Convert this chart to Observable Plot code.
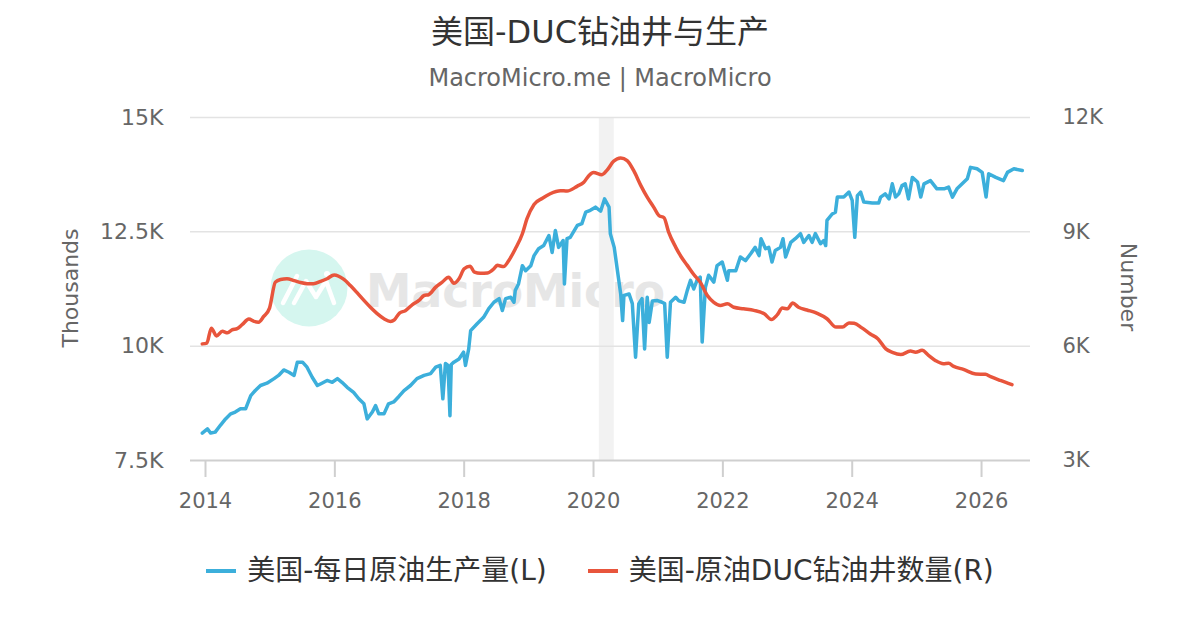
<!DOCTYPE html>
<html><head><meta charset="utf-8">
<script src="https://cdn.jsdelivr.net/npm/d3@7"></script>
<script src="https://cdn.jsdelivr.net/npm/@observablehq/plot@0.6"></script>
<style>
body{margin:0;width:1200px;height:630px;background:#fff;position:relative;overflow:hidden;font-family:"DejaVu Sans","Noto Sans CJK SC",sans-serif;}
#title{position:absolute;top:13px;left:0;width:1200px;text-align:center;font-size:32px;line-height:38px;color:#333;}
#subtitle{position:absolute;top:64px;left:0;width:1200px;text-align:center;font-size:24px;line-height:28px;color:#666;}
#wm{position:absolute;left:0;top:0;}
#chart{position:absolute;left:0;top:100px;}
.axt{position:absolute;font-size:22px;color:#666;white-space:nowrap;transform-origin:center;}
#legend{position:absolute;left:0;top:554px;width:1200px;display:flex;justify-content:center;align-items:center;font-size:28px;line-height:34px;color:#333;}
.item{display:flex;align-items:center;}
.sw{width:30px;height:4px;margin-right:11px;}
</style>
</head><body>
<div id="title">美国-DUC钻油井与生产</div>
<div id="subtitle">MacroMicro.me | MacroMicro</div>
<svg id="wm" width="1200" height="630">
  <circle cx="309" cy="288" r="38.5" fill="#d5f6ef"/>
  <g fill="none" stroke="#fff" stroke-width="4.5" stroke-linecap="round" stroke-linejoin="round">
    <path d="M283 303 L297 276"/>
    <path d="M294 303 L306 281 L316 297 L326 281 L334 303"/>
  </g>
  <circle cx="327" cy="274" r="3" fill="#fff"/>
  <text x="366" y="307" font-family="DejaVu Sans" font-weight="bold" font-size="47" fill="#e6e6e6" textLength="299" lengthAdjust="spacingAndGlyphs">MacroMicro</text>
</svg>
<div id="chart"></div>
<div class="axt" style="left:70px;top:288px;transform:translate(-50%,-50%) rotate(-90deg);">Thousands</div>
<div class="axt" style="left:1128px;top:287px;transform:translate(-50%,-50%) rotate(90deg);">Number</div>
<div id="legend">
  <div class="item"><div class="sw" style="background:#3cafdb"></div><span>美国-每日原油生产量(L)</span></div>
  <div class="item" style="margin-left:41px"><div class="sw" style="background:#e8553c"></div><span>美国-原油DUC钻油井数量(R)</span></div>
</div>
<script>
// ---- data (decimal years, values in thousands) ----
const blueYears = [2013.95,2014.03,2014.08,2014.15,2014.23,2014.31,2014.39,2014.46,2014.54,2014.62,2014.70,2014.77,2014.85,2014.95,2015.06,2015.13,2015.21,2015.29,2015.37,2015.42,2015.50,2015.57,2015.65,2015.73,2015.80,2015.88,2015.96,2016.04,2016.11,2016.19,2016.29,2016.37,2016.45,2016.50,2016.58,2016.63,2016.68,2016.76,2016.83,2016.91,2016.99,2017.07,2017.17,2017.27,2017.38,2017.48,2017.56,2017.63,2017.67,2017.71,2017.75,2017.78,2017.80,2017.84,2017.92,2017.99,2018.02,2018.07,2018.10,2018.20,2018.30,2018.38,2018.46,2018.54,2018.59,2018.64,2018.72,2018.77,2018.79,2018.84,2018.90,2018.95,2019.03,2019.08,2019.15,2019.23,2019.31,2019.36,2019.41,2019.46,2019.53,2019.55,2019.59,2019.64,2019.75,2019.82,2019.88,2019.95,2020.03,2020.11,2020.17,2020.24,2020.26,2020.32,2020.37,2020.42,2020.45,2020.47,2020.55,2020.60,2020.65,2020.70,2020.75,2020.79,2020.83,2020.86,2020.91,2020.98,2021.06,2021.10,2021.14,2021.19,2021.27,2021.32,2021.40,2021.45,2021.50,2021.55,2021.60,2021.65,2021.68,2021.73,2021.78,2021.86,2021.91,2021.99,2022.07,2022.09,2022.20,2022.27,2022.35,2022.43,2022.50,2022.56,2022.59,2022.66,2022.71,2022.76,2022.81,2022.89,2022.93,2022.97,2023.05,2023.12,2023.20,2023.25,2023.33,2023.38,2023.43,2023.51,2023.56,2023.59,2023.61,2023.69,2023.74,2023.77,2023.87,2023.95,2024.00,2024.04,2024.08,2024.13,2024.18,2024.31,2024.41,2024.44,2024.51,2024.57,2024.62,2024.67,2024.72,2024.77,2024.82,2024.87,2024.93,2025.01,2025.06,2025.11,2025.21,2025.31,2025.42,2025.49,2025.55,2025.62,2025.70,2025.78,2025.83,2025.93,2026.01,2026.07,2026.11,2026.22,2026.34,2026.40,2026.50,2026.63];
const blueValues = [8.10,8.19,8.10,8.12,8.27,8.41,8.52,8.56,8.63,8.63,8.92,9.03,9.14,9.19,9.29,9.36,9.48,9.43,9.36,9.65,9.65,9.54,9.32,9.14,9.19,9.25,9.21,9.29,9.21,9.10,8.99,8.85,8.74,8.41,8.56,8.70,8.52,8.52,8.74,8.78,8.90,9.03,9.14,9.29,9.36,9.40,9.54,9.58,8.85,9.62,9.58,8.48,9.60,9.65,9.72,9.87,9.58,9.94,10.34,10.49,10.63,10.82,10.96,11.04,10.78,11.04,11.07,10.96,11.22,11.36,11.76,11.65,11.76,11.98,12.13,12.20,12.42,12.05,12.53,12.16,12.31,11.36,12.35,12.38,12.64,12.68,12.93,12.97,13.04,12.95,13.22,13.04,12.46,12.16,11.65,11.14,10.56,11.11,11.14,10.93,9.76,10.93,11.04,9.94,11.07,10.52,10.99,11.00,10.96,10.93,9.76,10.96,11.07,10.99,10.96,11.22,11.44,11.25,11.44,11.51,10.09,11.29,11.55,11.40,11.76,11.84,11.44,11.65,11.65,11.95,11.87,12.02,12.16,11.98,12.35,12.13,12.16,11.84,12.09,12.16,12.35,11.95,12.27,12.35,12.46,12.27,12.42,12.27,12.46,12.24,12.31,12.20,12.75,12.89,12.93,13.26,13.26,13.37,13.19,12.38,13.29,13.37,13.15,13.13,13.13,13.26,13.33,13.22,13.55,13.26,13.33,13.51,13.55,13.22,13.69,13.59,13.26,13.55,13.62,13.44,13.44,13.48,13.26,13.44,13.55,13.66,13.91,13.88,13.80,13.26,13.77,13.69,13.62,13.80,13.88,13.84];
const redYears = [2013.95,2014.02,2014.09,2014.17,2014.26,2014.34,2014.41,2014.49,2014.57,2014.67,2014.75,2014.82,2014.90,2014.99,2015.08,2015.16,2015.26,2015.37,2015.47,2015.57,2015.67,2015.78,2015.88,2015.99,2016.14,2016.24,2016.35,2016.45,2016.55,2016.65,2016.76,2016.86,2016.92,2017.00,2017.09,2017.20,2017.30,2017.38,2017.45,2017.56,2017.66,2017.76,2017.84,2017.92,2018.00,2018.09,2018.16,2018.25,2018.36,2018.46,2018.51,2018.61,2018.69,2018.79,2018.90,2018.97,2019.08,2019.21,2019.33,2019.49,2019.59,2019.75,2019.85,2019.93,2020.00,2020.13,2020.21,2020.31,2020.42,2020.52,2020.62,2020.73,2020.83,2020.93,2021.01,2021.09,2021.16,2021.27,2021.35,2021.45,2021.55,2021.65,2021.76,2021.86,2021.96,2022.07,2022.17,2022.32,2022.48,2022.64,2022.75,2022.84,2022.92,2023.00,2023.08,2023.17,2023.30,2023.46,2023.61,2023.75,2023.85,2023.95,2024.03,2024.15,2024.28,2024.40,2024.52,2024.62,2024.75,2024.90,2024.98,2025.08,2025.18,2025.29,2025.41,2025.49,2025.57,2025.72,2025.91,2026.06,2026.14,2026.29,2026.47];
const redValues = [6.06,6.08,6.47,6.27,6.39,6.35,6.43,6.46,6.57,6.71,6.65,6.63,6.78,7.00,7.68,7.75,7.77,7.72,7.67,7.64,7.64,7.70,7.77,7.87,7.75,7.59,7.39,7.20,7.02,6.86,6.72,6.65,6.69,6.87,6.93,7.09,7.20,7.33,7.35,7.55,7.68,7.81,7.65,7.77,8.03,8.10,7.94,7.91,7.92,8.03,8.12,8.09,8.25,8.55,8.95,9.34,9.72,9.88,10.00,10.08,10.07,10.20,10.30,10.48,10.56,10.50,10.62,10.85,10.94,10.87,10.61,10.22,9.91,9.65,9.43,9.37,9.00,8.60,8.36,8.12,7.88,7.68,7.33,7.15,7.07,7.11,7.02,6.98,6.94,6.85,6.70,6.82,7.00,6.98,7.13,7.02,6.95,6.86,6.72,6.50,6.50,6.61,6.60,6.48,6.32,6.19,5.93,5.84,5.78,5.87,5.84,5.89,5.76,5.62,5.54,5.55,5.47,5.39,5.27,5.26,5.20,5.10,4.99];
const recessionStart = [2020.09];
const recessionEnd = [2020.32];
const xTicks = [2014,2016,2018,2020,2022,2024,2026];
const leftTicks = [7.5,10,12.5,15];
const leftTickLabels = ["7.5K","10K","12.5K","15K"];
const rightTicks = [3,6,9,12];
const rightTickLabels = ["3K","6K","9K","12K"];

// map right-axis values onto left scale
const L0 = leftTicks[0], L1 = leftTicks[leftTicks.length-1];
const R0 = rightTicks[0], R1 = rightTicks[rightTicks.length-1];
const toLeft = v => L0 + (v - R0) * (L1 - L0) / (R1 - R0);

const blue = blueYears.map((x,i)=>({x, y: blueValues[i]}));
const red = redYears.map((x,i)=>({x, y: toLeft(redValues[i])}));
const rec = recessionStart.map((s,i)=>({x1:s, x2:recessionEnd[i]}));

const plot = Plot.plot({
  width: 1200, height: 430,
  marginTop: 17, marginBottom: 70, marginLeft: 190, marginRight: 170,
  style: {background: "transparent", fontFamily: "DejaVu Sans, Noto Sans CJK SC, sans-serif", fontSize: "21px", overflow: "visible"},
  x: {domain: [2013.768, 2026.757]},
  y: {domain: [L0, L1]},
  marks: [
    Plot.rect(rec, {x1: "x1", x2: "x2", fill: "#f2f2f2"}),
    Plot.ruleY(leftTicks.slice(1), {stroke: "#e3e3e3", strokeWidth: 1.5}),
    Plot.ruleY([L0], {stroke: "#cfcfcf", strokeWidth: 2}),
    Plot.axisX(xTicks, {tickSize: 17, tickPadding: 16, stroke: "#cfcfcf", strokeWidth: 2, fill: "#666", fontSize: 21, tickFormat: d => String(d), label: null}),
    Plot.axisY(leftTicks, {anchor: "left", tickSize: 0, tickPadding: 27, fill: "#666", fontSize: 22, tickFormat: d => leftTickLabels[leftTicks.indexOf(d)], label: null}),
    Plot.axisY(leftTicks, {anchor: "right", tickSize: 0, tickPadding: 32, fill: "#666", fontSize: 21, tickFormat: d => rightTickLabels[leftTicks.indexOf(d)], label: null}),
    Plot.line(blue, {x: "x", y: "y", stroke: "#3cafdb", strokeWidth: 3.5, strokeLinejoin: "round"}),
    Plot.line(red, {x: "x", y: "y", stroke: "#e8553c", strokeWidth: 3.5, strokeLinejoin: "round", curve: "monotone-x"})
  ]
});
document.getElementById("chart").appendChild(plot);
</script>
</body></html>
